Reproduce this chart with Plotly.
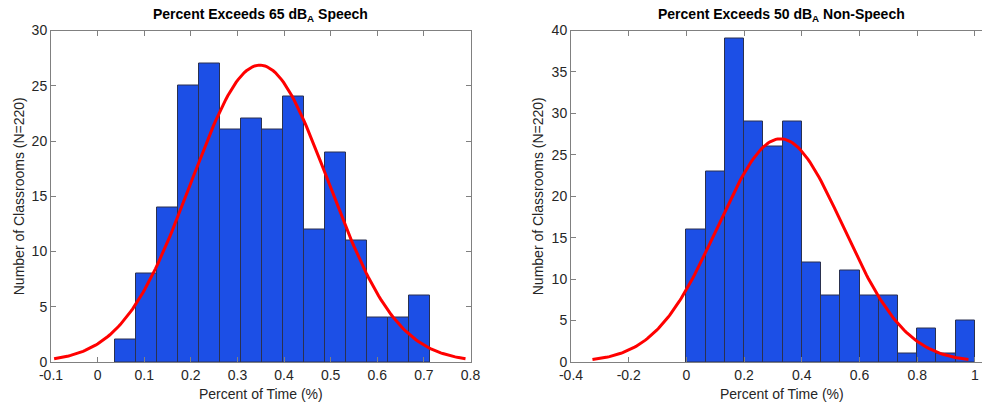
import numpy as np
import plotly.graph_objects as go

# ---------------- data ----------------
speech_counts = [2, 8, 14, 25, 27, 21, 22, 21, 24, 12, 19, 11, 4, 4, 6]
speech_bin_start = 0.0381
speech_bin_width = 0.04503
speech_mean = 0.348
speech_sigma = 0.1471

nonspeech_counts = [16, 23, 39, 29, 26, 29, 12, 8, 11, 8, 8, 1, 4, 1, 5]
nonspeech_bin_start = 0.0
nonspeech_bin_width = 1.0 / 15
nonspeech_mean = 0.326
nonspeech_sigma = 0.2172

n_total = 220

left_xticks = [-0.1, 0, 0.1, 0.2, 0.3, 0.4, 0.5, 0.6, 0.7, 0.8]
left_xticktext = ["-0.1", "0", "0.1", "0.2", "0.3", "0.4", "0.5", "0.6", "0.7", "0.8"]
right_xticks = [-0.4, -0.2, 0, 0.2, 0.4, 0.6, 0.8, 1.0]
right_xticktext = ["-0.4", "-0.2", "0", "0.2", "0.4", "0.6", "0.8", "1"]
left_yticks = [0, 5, 10, 15, 20, 25, 30]
right_yticks = [0, 5, 10, 15, 20, 25, 30, 35, 40]

title_left = "<b>Percent Exceeds 65 dB<sub>A</sub> Speech</b>"
title_right = "<b>Percent Exceeds 50 dB<sub>A</sub> Non-Speech</b>"
xlabel = "Percent of Time (%)"
ylabel = "Number of Classrooms (N=220)"

# ---------------- styling ----------------
W, H = 982, 405
FONT = "Liberation Sans, Arial, sans-serif"
BAR_FILL = "#1c4fe6"
BAR_EDGE = "#2a3150"
AX_COLOR = "#808080"
TXT_COLOR = "#262626"


def centers(start, width, n):
    return [start + width * (i + 0.5) for i in range(n)]


def normal_fit(mean, sigma, width):
    xs = np.linspace(mean - 3 * sigma, mean + 3 * sigma, 200)
    ys = n_total * width / (sigma * np.sqrt(2 * np.pi)) * np.exp(-0.5 * ((xs - mean) / sigma) ** 2)
    return xs, ys


fig = go.Figure()

# left panel
fig.add_trace(go.Bar(
    x=centers(speech_bin_start, speech_bin_width, len(speech_counts)),
    y=speech_counts, width=speech_bin_width,
    marker=dict(color=BAR_FILL, line=dict(color=BAR_EDGE, width=1)),
    xaxis="x", yaxis="y", showlegend=False, hoverinfo="skip"))
lx, ly = normal_fit(speech_mean, speech_sigma, speech_bin_width)
fig.add_trace(go.Scatter(x=lx, y=ly, mode="lines",
                         line=dict(color="#ff0000", width=3),
                         xaxis="x", yaxis="y", showlegend=False, hoverinfo="skip"))

# right panel
fig.add_trace(go.Bar(
    x=centers(nonspeech_bin_start, nonspeech_bin_width, len(nonspeech_counts)),
    y=nonspeech_counts, width=nonspeech_bin_width,
    marker=dict(color=BAR_FILL, line=dict(color=BAR_EDGE, width=1)),
    xaxis="x2", yaxis="y2", showlegend=False, hoverinfo="skip"))
rx, ry = normal_fit(nonspeech_mean, nonspeech_sigma, nonspeech_bin_width)
fig.add_trace(go.Scatter(x=rx, y=ry, mode="lines",
                         line=dict(color="#ff0000", width=3),
                         xaxis="x2", yaxis="y2", showlegend=False, hoverinfo="skip"))

y_dom = [(H - 362) / H, (H - 30.5) / H]
left_dom = [51 / W, 470.5 / W]
right_dom = [571 / W, 1.0]

axis_common = dict(showgrid=False, zeroline=False, showline=True, linecolor=AX_COLOR,
                   linewidth=1, ticks="inside", ticklen=5, tickcolor=AX_COLOR,
                   automargin=False,
                   tickfont=dict(family=FONT, size=14, color=TXT_COLOR))

fig.update_layout(
    template="none",
    width=W, height=H, margin=dict(l=0, r=0, t=0, b=0, pad=0, autoexpand=False),
    paper_bgcolor="white", plot_bgcolor="white", barmode="overlay", bargap=0,
    xaxis=dict(domain=left_dom, range=[-0.1, 0.8], tickvals=left_xticks,
               ticktext=left_xticktext, anchor="y", mirror="ticks", **axis_common),
    yaxis=dict(domain=y_dom, range=[0, 30], tickvals=left_yticks, anchor="x",
               mirror="ticks", **axis_common),
    xaxis2=dict(domain=right_dom, range=[-0.4, (982 - 571) / 288.5 - 0.4],
                tickvals=right_xticks, ticktext=right_xticktext, anchor="y2",
                mirror="ticks", **axis_common),
    yaxis2=dict(domain=y_dom, range=[0, 40], tickvals=right_yticks, anchor="x2",
                mirror=False, **axis_common),
)

ann = []
ann.append(dict(text=title_left, x=260.5 / W, y=(H - 15) / H, xref="paper", yref="paper",
                showarrow=False, xanchor="center", yanchor="middle",
                font=dict(family=FONT, size=14, color="black")))
ann.append(dict(text=title_right, x=781 / W, y=(H - 15) / H, xref="paper", yref="paper",
                showarrow=False, xanchor="center", yanchor="middle",
                font=dict(family=FONT, size=14, color="black")))
for cx in (260.5, 781.5):
    ann.append(dict(text=xlabel, x=cx / W, y=(H - 394) / H, xref="paper", yref="paper",
                    showarrow=False, xanchor="center", yanchor="middle",
                    font=dict(family=FONT, size=14, color=TXT_COLOR)))
for cx in (19, 538):
    ann.append(dict(text=ylabel, x=cx / W, y=(y_dom[0] + y_dom[1]) / 2, xref="paper",
                    yref="paper", showarrow=False, xanchor="center", yanchor="middle",
                    textangle=-90, font=dict(family=FONT, size=14, color=TXT_COLOR)))
fig.update_layout(annotations=ann)

fig.write_html("out.html")
